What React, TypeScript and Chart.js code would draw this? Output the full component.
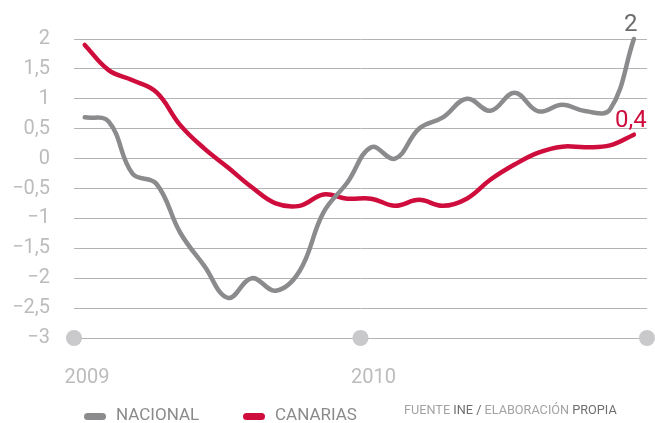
import React, { useEffect, useRef } from 'react';
import { Chart, registerables } from 'chart.js';

Chart.register(...registerables);

// Monthly series, Jan 2009 – Dec 2010
const months = [
  '2009-01', '2009-02', '2009-03', '2009-04', '2009-05', '2009-06',
  '2009-07', '2009-08', '2009-09', '2009-10', '2009-11', '2009-12',
  '2010-01', '2010-02', '2010-03', '2010-04', '2010-05', '2010-06',
  '2010-07', '2010-08', '2010-09', '2010-10', '2010-11', '2010-12',
];

const nacional = [
  0.69, 0.62, -0.25, -0.42, -1.24, -1.79, -2.33, -2.0, -2.21, -1.88, -0.9, -0.4,
  0.19, 0.0, 0.5, 0.69, 1.0, 0.8, 1.1, 0.79, 0.9, 0.79, 0.82, 2.0,
];

const canarias = [
  1.9, 1.48, 1.31, 1.11, 0.56, 0.17, -0.15, -0.48, -0.75, -0.79, -0.6, -0.67,
  -0.67, -0.79, -0.69, -0.79, -0.67, -0.35, -0.1, 0.1, 0.2, 0.19, 0.22, 0.4,
];

const yearTicks = [0, 12, 24];
const yearLabels = ['2009', '2010', ''];

const yTicks = [-3, -2.5, -2, -1.5, -1, -0.5, 0, 0.5, 1, 1.5, 2];
const yTickLabels = ['−3', '−2,5', '−2', '−1,5', '−1', '−0,5', '0', '0,5', '1', '1,5', '2'];

const seriesNames = ['NACIONAL', 'CANARIAS'];
const seriesColors = ['#8b8b8d', '#cf0d3d'];
const endLabelColors = ['#6b6b6b', '#cf0d3d'];

const FONT = 'Roboto, "Open Sans", sans-serif';

const fmt = (v: number) => String(v).replace('.', ',');

const endLabelPlugin = {
  id: 'endLabels',
  afterDatasetsDraw(chart: any) {
    const ctx = chart.ctx;
    chart.data.datasets.forEach((ds: any, di: number) => {
      if (!ds.endLabel) return;
      const meta = chart.getDatasetMeta(di);
      const pt = meta.data[meta.data.length - 1];
      if (!pt) return;
      ctx.save();
      ctx.font = `24px ${FONT}`;
      ctx.fillStyle = ds.endLabelColor;
      ctx.textAlign = 'center';
      ctx.textBaseline = 'alphabetic';
      ctx.fillText(ds.endLabel, pt.x - 3, pt.y - 8);
      ctx.restore();
    });
  },
};

export default function App() {
  const ref = useRef<HTMLCanvasElement | null>(null);

  useEffect(() => {
    if (!ref.current) return;
    const toPoints = (vals: number[]) => vals.map((v, i) => ({ x: i + 0.45, y: v }));
    const chart = new Chart(ref.current, {
      type: 'line',
      data: {
        datasets: [
          {
            label: seriesNames[0],
            data: toPoints(nacional),
            borderColor: seriesColors[0],
            borderWidth: 4.5,
            pointRadius: 0,
            tension: 0.4,
            borderCapStyle: 'round',
            clip: false,
            endLabel: fmt(nacional[nacional.length - 1]),
            endLabelColor: endLabelColors[0],
          } as any,
          {
            label: seriesNames[1],
            data: toPoints(canarias),
            borderColor: seriesColors[1],
            borderWidth: 4.5,
            pointRadius: 0,
            tension: 0.4,
            borderCapStyle: 'round',
            clip: false,
            endLabel: fmt(canarias[canarias.length - 1]),
            endLabelColor: endLabelColors[1],
          } as any,
          {
            type: 'scatter',
            label: 'years',
            data: yearTicks.map((t) => ({ x: t, y: -3 })),
            pointRadius: 8,
            pointBackgroundColor: '#c9c9cb',
            pointBorderWidth: 0,
            borderWidth: 0,
            showLine: false,
            clip: false,
          } as any,
        ],
      },
      options: {
        animation: false,
        responsive: false,
        maintainAspectRatio: false,
        layout: { autoPadding: false, padding: { top: 39, right: 8, left: 0, bottom: 0 } },
        plugins: { legend: { display: false }, tooltip: { enabled: false } },
        scales: {
          x: {
            type: 'linear',
            min: 0,
            max: 24,
            afterBuildTicks: (s: any) => {
              s.ticks = yearTicks.map((v) => ({ value: v }));
            },
            afterFit: (s: any) => {
              s.height = 85;
              s.paddingLeft = 0;
              s.paddingRight = 0;
            },
            ticks: {
              autoSkip: false,
              maxRotation: 0,
              padding: 28,
              labelOffset: 13,
              color: '#bcbcbe',
              font: { family: FONT, size: 20 },
              callback: (v: any) => {
                const i = yearTicks.indexOf(Number(v));
                return i >= 0 ? yearLabels[i] : '';
              },
            },
            grid: { display: false, drawTicks: false },
            border: { display: false },
          },
          y: {
            min: -3,
            max: 2,
            afterBuildTicks: (s: any) => {
              s.ticks = yTicks.map((v) => ({ value: v }));
            },
            afterFit: (s: any) => {
              s.width = 74;
              s.paddingTop = 0;
              s.paddingBottom = 0;
            },
            ticks: {
              padding: 24,
              color: '#bcbcbe',
              font: { family: FONT, size: 20 },
              callback: (v: any) => {
                const i = yTicks.indexOf(Number(v));
                return i >= 0 ? yTickLabels[i] : '';
              },
            },
            grid: { color: '#b3b3b5', lineWidth: 1, drawTicks: false },
            border: { display: false },
          },
        },
      } as any,
      plugins: [endLabelPlugin],
    });
    return () => chart.destroy();
  }, []);

  const marker = (color: string, left: number) => (
    <div
      style={{
        position: 'absolute',
        left,
        top: 413,
        width: 22,
        height: 7,
        borderRadius: 4,
        background: color,
      }}
    />
  );
  const legendText = (text: string, left: number) => (
    <div
      style={{
        position: 'absolute',
        left,
        top: 406,
        fontFamily: FONT,
        fontSize: 17,
        lineHeight: '17px',
        color: '#8a8a8c',
        whiteSpace: 'nowrap',
      }}
    >
      {text}
    </div>
  );

  return (
    <div style={{ position: 'absolute', left: 0, top: 0, width: 655, height: 423, background: '#fff' }}>
      <canvas ref={ref} width={655} height={423} style={{ display: 'block' }} />
      {marker(seriesColors[0], 84)}
      {legendText(seriesNames[0], 116)}
      {marker(seriesColors[1], 243)}
      {legendText(seriesNames[1], 275)}
      <div
        style={{
          position: 'absolute',
          left: 404,
          top: 404,
          fontFamily: FONT,
          fontSize: 12.7,
          lineHeight: '12.7px',
          color: '#a3a3a5',
          whiteSpace: 'nowrap',
        }}
      >
        FUENTE <span style={{ color: '#6e6e70' }}>INE /</span> ELABORACIÓN{' '}
        <span style={{ color: '#6e6e70' }}>PROPIA</span>
      </div>
    </div>
  );
}
